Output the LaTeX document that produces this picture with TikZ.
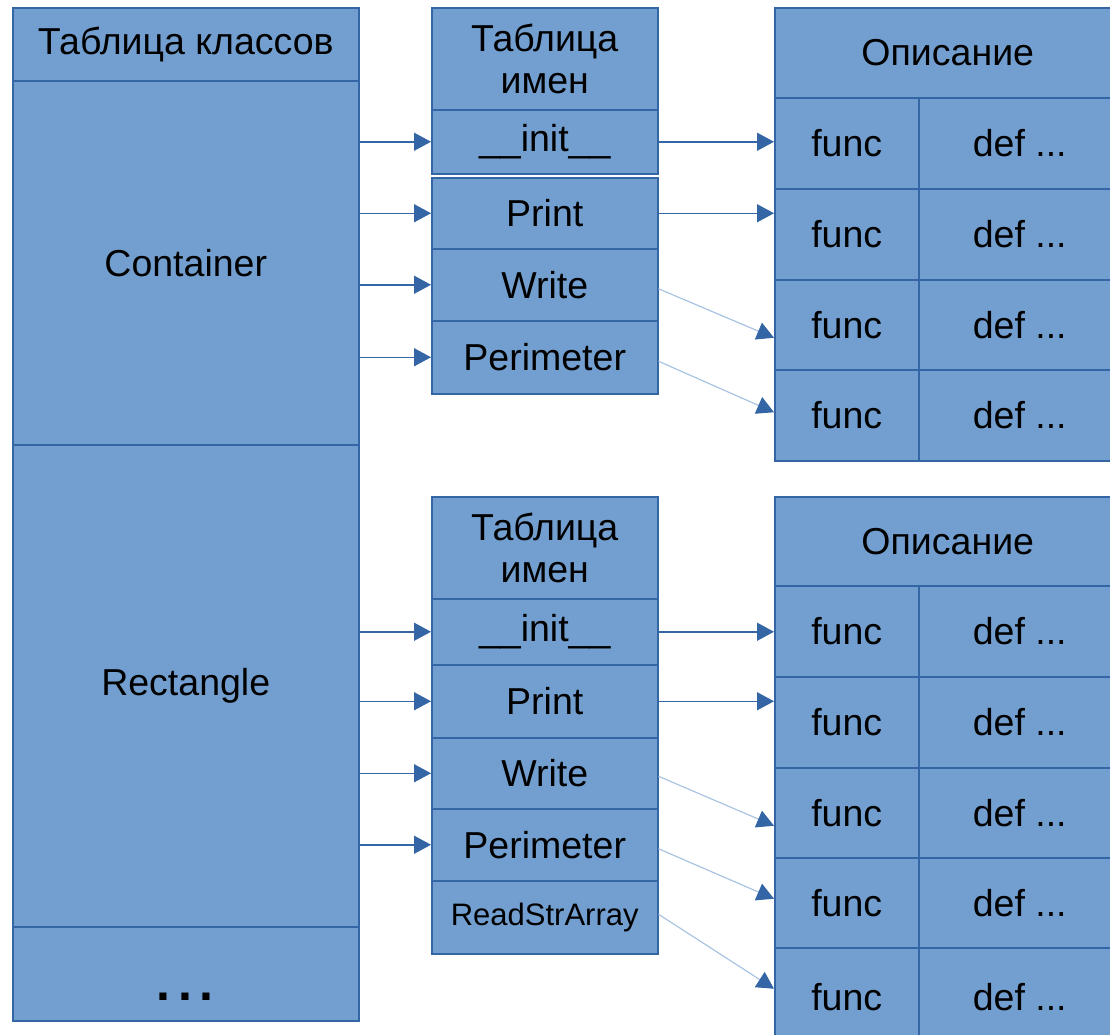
\documentclass[tikz,border=0pt]{standalone}
\usepackage{fontspec}
\setmainfont{Liberation Sans}
\usetikzlibrary{arrows.meta,calc}
\definecolor{cellfill}{HTML}{729FCF}
\definecolor{cellline}{HTML}{3465A4}
\definecolor{thinline}{HTML}{A9C3E2}
\begin{document}
\begin{tikzpicture}[x=1pt,y=-1pt,
  cell/.style={rectangle, draw=cellline, fill=cellfill, line width=1.5pt, anchor=north west,
    inner sep=0pt, align=center, font=\fontsize{37.5}{42}\selectfont},
  small/.style={font=\fontsize{31}{36}\selectfont},
  link/.style={draw=cellline, line width=1.5pt, -{Triangle[length=17pt,width=18pt]}},
  slant/.style={draw=thinline, line width=1.2pt, -{Triangle[length=17pt,width=18pt,color=cellline,fill=cellline]}}]
\useasboundingbox (0,0) rectangle (1110,1034);
\clip (0,0) rectangle (1110,1034);
% class table
\node [cell, minimum width=346pt, minimum height=73pt] (cls_head) at (12,7) {Таблица классов};
\node [cell, minimum width=346pt, minimum height=364pt] (cls_cont) at (12,80) {Container};
\node [cell, minimum width=346pt, minimum height=482pt] (cls_rect) at (12,444) {Rectangle};
\node [cell, minimum width=346pt, minimum height=94pt] (cls_more) at (12,926) {};
\node [anchor=base, font=\fontsize{50}{50}\bfseries\selectfont] (more_dots) at (185,1000) {.\kern7.6pt.\kern7.6pt.};
% names of Container
\node [cell, minimum width=226pt, minimum height=102pt] (n1_head) at (431,7) {Таблица\\имен};
\node [cell, minimum width=226pt, minimum height=64pt] (n1_init) at (431,109) {\_\_init\_\_};
\node [cell, minimum width=226pt, minimum height=71pt] (n1_print) at (431,177) {Print};
\node [cell, minimum width=226pt, minimum height=72pt] (n1_write) at (431,248) {Write};
\node [cell, minimum width=226pt, minimum height=73pt] (n1_perim) at (431,320) {Perimeter};
% descriptions of Container
\node [cell, minimum width=346pt, minimum height=90pt] (d1_head) at (774,7) {Описание};
\node [cell, minimum width=144pt, minimum height=91pt] (f1_1) at (774,97) {func};
\node [cell, minimum width=202pt, minimum height=91pt] (e1_1) at (918,97) {def ...};
\node [cell, minimum width=144pt, minimum height=91pt] (f1_2) at (774,188) {func};
\node [cell, minimum width=202pt, minimum height=91pt] (e1_2) at (918,188) {def ...};
\node [cell, minimum width=144pt, minimum height=90pt] (f1_3) at (774,279) {func};
\node [cell, minimum width=202pt, minimum height=90pt] (e1_3) at (918,279) {def ...};
\node [cell, minimum width=144pt, minimum height=91pt] (f1_4) at (774,369) {func};
\node [cell, minimum width=202pt, minimum height=91pt] (e1_4) at (918,369) {def ...};
% names of Rectangle
\node [cell, minimum width=226pt, minimum height=102pt] (n2_head) at (431,496) {Таблица\\имен};
\node [cell, minimum width=226pt, minimum height=66pt] (n2_init) at (431,598) {\_\_init\_\_};
\node [cell, minimum width=226pt, minimum height=73pt] (n2_print) at (431,664) {Print};
\node [cell, minimum width=226pt, minimum height=71pt] (n2_write) at (431,737) {Write};
\node [cell, minimum width=226pt, minimum height=72pt] (n2_perim) at (431,808) {Perimeter};
\node [cell, small, minimum width=226pt, minimum height=73pt] (n2_read) at (431,880) {ReadStrArray};
% descriptions of Rectangle
\node [cell, minimum width=346pt, minimum height=89pt] (d2_head) at (774,496) {Описание};
\node [cell, minimum width=144pt, minimum height=91pt] (f2_1) at (774,585) {func};
\node [cell, minimum width=202pt, minimum height=91pt] (e2_1) at (918,585) {def ...};
\node [cell, minimum width=144pt, minimum height=91pt] (f2_2) at (774,676) {func};
\node [cell, minimum width=202pt, minimum height=91pt] (e2_2) at (918,676) {def ...};
\node [cell, minimum width=144pt, minimum height=90pt] (f2_3) at (774,767) {func};
\node [cell, minimum width=202pt, minimum height=90pt] (e2_3) at (918,767) {def ...};
\node [cell, minimum width=144pt, minimum height=90pt] (f2_4) at (774,857) {func};
\node [cell, minimum width=202pt, minimum height=90pt] (e2_4) at (918,857) {def ...};
\node [cell, minimum width=144pt, minimum height=98pt] (f2_5) at (774,947) {func};
\node [cell, minimum width=202pt, minimum height=98pt] (e2_5) at (918,947) {def ...};
% class -> names
\draw [link] (cls_cont.east |- n1_init.west) -- (n1_init.west);
\draw [link] (cls_cont.east |- n1_print.west) -- (n1_print.west);
\draw [link] (cls_cont.east |- n1_write.west) -- (n1_write.west);
\draw [link] (cls_cont.east |- n1_perim.west) -- (n1_perim.west);
\draw [link] (cls_rect.east |- n2_init.west) -- (n2_init.west);
\draw [link] (cls_rect.east |- n2_print.west) -- (n2_print.west);
\draw [link] (cls_rect.east |- n2_write.west) -- (n2_write.west);
\draw [link] (cls_rect.east |- n2_perim.west) -- (n2_perim.west);
% names -> descriptions
\draw [link] (n1_init.east) -- (n1_init.east -| f1_1.west);
\draw [link] (n1_print.east) -- (n1_print.east -| f1_2.west);
\draw [slant] ($(n1_write.east)+(0,4)$) -- ($(f1_3.west)+(0,13)$);
\draw [slant] ($(n1_perim.east)+(0,4)$) -- ($(f1_4.west)+(0,-3)$);
\draw [link] (n2_init.east) -- (n2_init.east -| f2_1.west);
\draw [link] (n2_print.east) -- (n2_print.east -| f2_2.west);
\draw [slant] ($(n2_write.east)+(0,3)$) -- ($(f2_3.west)+(0,13)$);
\draw [slant] ($(n2_perim.east)+(0,4)$) -- ($(f2_4.west)+(0,-4)$);
\draw [slant] ($(n2_read.east)+(0,-3)$) -- ($(f2_5.west)+(0,-8)$);
\end{tikzpicture}
\end{document}
